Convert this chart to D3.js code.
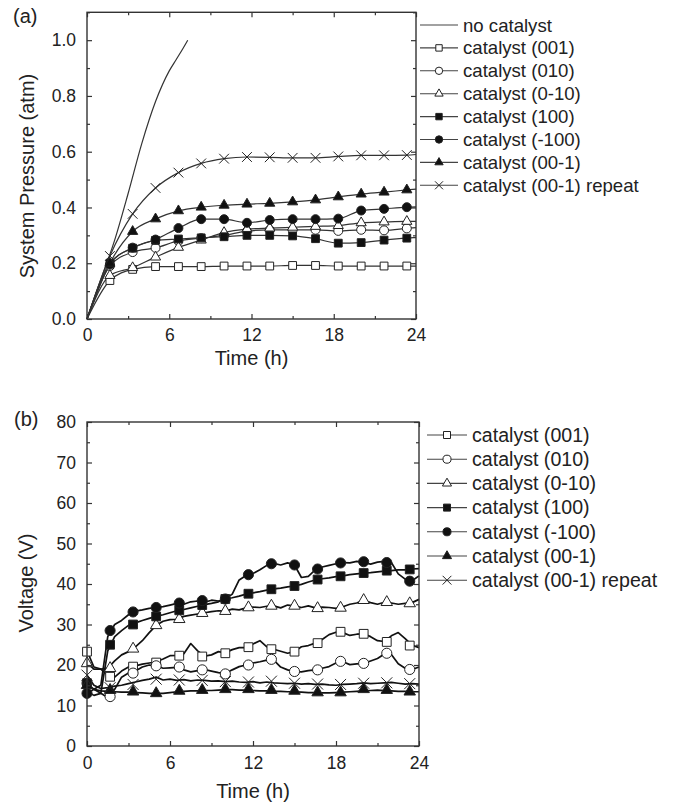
<!DOCTYPE html>
<html>
<head>
<meta charset="utf-8">
<script src="https://cdn.jsdelivr.net/npm/d3@7"></script>
<style>
  body { margin: 0; background: #fff; }
  svg text { font-family: "Liberation Sans", Arial, sans-serif; fill: #222; }
</style>
</head>
<body>
<script>
// etiquetas de las series (mismo orden en los dos paneles)
let etiquetas = ["no catalyst", "catalyst (001)", "catalyst (010)", "catalyst (0-10)",
  "catalyst (100)", "catalyst (-100)", "catalyst (00-1)", "catalyst (00-1) repeat"];

let ticksX = [0, 6, 12, 18, 24];
let ticksXmenor = [3, 9, 15, 21];
let ticksPresion = [0, 0.2, 0.4, 0.6, 0.8, 1.0];
let ticksPresionMenor = [0.1, 0.3, 0.5, 0.7, 0.9, 1.1];
let ticksVoltaje = [0, 10, 20, 30, 40, 50, 60, 70, 80];
let ticksVoltajeMenor = [5, 15, 25, 35, 45, 55, 65, 75];

// ---- panel (a): presion del sistema (atm) ----
let tiempoSinCat = [0, 1, 2, 3, 4, 5, 6, 6.5, 7, 7.35];
let presionSinCat = [0, 0.14, 0.28, 0.45, 0.63, 0.78, 0.89, 0.93, 0.97, 1.0];

let tiemposA = [0, 1.67, 3.33, 5, 6.67, 8.33, 10, 11.67, 13.33, 15, 16.67, 18.33, 20, 21.67, 23.33, 24];
let presion001 = [0, 0.138, 0.178, 0.188, 0.188, 0.188, 0.19, 0.19, 0.19, 0.192, 0.192, 0.19, 0.19, 0.19, 0.19, 0.19];
let presion010 = [0, 0.19, 0.24, 0.255, 0.28, 0.29, 0.3, 0.315, 0.32, 0.32, 0.32, 0.316, 0.32, 0.318, 0.325, 0.328];
let presion0m10 = [0, 0.156, 0.184, 0.222, 0.257, 0.283, 0.31, 0.322, 0.326, 0.329, 0.332, 0.335, 0.345, 0.348, 0.35, 0.35];
let presion100 = [0, 0.2, 0.254, 0.282, 0.287, 0.291, 0.295, 0.3, 0.3, 0.298, 0.288, 0.272, 0.274, 0.283, 0.29, 0.292];
let presionm100 = [0, 0.195, 0.256, 0.285, 0.326, 0.358, 0.358, 0.345, 0.355, 0.358, 0.358, 0.36, 0.389, 0.395, 0.401, 0.402];
let presion00m1 = [0, 0.2, 0.314, 0.359, 0.388, 0.401, 0.408, 0.412, 0.415, 0.42, 0.427, 0.438, 0.448, 0.455, 0.463, 0.466];
let presionRep = [0, 0.226, 0.377, 0.47, 0.525, 0.558, 0.575, 0.581, 0.58, 0.578, 0.578, 0.583, 0.587, 0.587, 0.588, 0.59];

// ---- panel (b): voltaje (V) ----
let tiemposB = [0, 0.5, 1, 1.5, 2, 2.5, 3, 3.5, 4, 4.5, 5, 5.5, 6, 6.5, 7, 7.5, 8, 8.5, 9, 9.5,
  10, 10.5, 11, 11.5, 12, 12.5, 13, 13.5, 14, 14.5, 15, 15.5, 16, 16.5, 17, 17.5, 18, 18.5, 19, 19.5,
  20, 20.5, 21, 21.5, 22, 22.5, 23, 23.5, 24];
let voltaje001 = [23.5, 19.5, 19, 17.5, 17, 18.5, 19.5, 19.8, 20.2, 20.5, 20.8, 21.5, 22.3, 22.4, 22.8, 25.3, 23.5, 22.2, 22.5, 23.3,
  23, 23.8, 24.3, 24.3, 25.2, 26, 24.5, 23.9, 23.4, 22.9, 23.3, 24.5, 24.8, 25.4, 26.3, 27.5, 28.1, 28, 27.3, 27.6,
  27.7, 27, 26, 25.8, 27.2, 28, 26.5, 24.9, 24.3];
let voltaje010 = [15.5, 14, 13, 12, 14, 17, 18, 18.5, 19.5, 20, 19.8, 19.2, 19.3, 19.4, 18.8, 18.3, 18.6, 18.9, 18.5, 18.1,
  17.9, 18.8, 19.6, 20, 20.5, 20.8, 21.2, 21.2, 19.5, 18.8, 18.4, 18.3, 18.6, 18.8, 19.2, 19.6, 20.5, 20.8, 20.1, 20.3,
  20.4, 21, 21.6, 22.7, 22.6, 20.3, 19.2, 18.9, 19.5];
let voltaje0m10 = [20.5, 19, 19, 19.2, 21, 22.5, 23.3, 24.5, 26, 28, 29.8, 30.8, 31.2, 31.3, 32, 32.3, 32.6, 32.9, 33.2, 33.4,
  33.3, 33.8, 33.6, 34.1, 34.3, 34.2, 34.5, 34.6, 34.1, 34.8, 34.6, 34.2, 34.6, 34.1, 34.3, 34.2, 34, 34.4, 35, 35.3,
  36, 35.4, 35, 35.5, 35.3, 35, 35.2, 35.4, 36.2];
let voltaje100 = [13.5, 12.5, 13, 23.5, 27, 28.5, 29.8, 30.4, 31, 31.5, 32, 32.4, 32.9, 33.4, 33.7, 34.1, 34.5, 34.9, 35.2, 35.6,
  36.3, 36.6, 37, 37.5, 37.8, 38.1, 38.5, 38.8, 39, 39.3, 39.5, 39.9, 40.5, 41, 41.3, 41.5, 41.8, 42, 42.3, 42.5,
  42.7, 42.8, 43, 43.2, 43.3, 43.5, 43.5, 43.7, 43.8];
let voltajem100 = [13, 14, 15, 27, 30, 31, 32.4, 33.3, 33.6, 34, 34.2, 34.4, 34.8, 35.2, 35, 35.6, 35.8, 35.5, 36, 35.8,
  36.3, 37.5, 41, 42.1, 42.6, 43.5, 44.6, 45.1, 44.7, 45.2, 44.7, 41.6, 41.9, 43.5, 44.2, 44.6, 45, 45.3, 45.2, 45.6,
  45.3, 44.9, 45.4, 45.6, 45.3, 42.5, 41.2, 40.8, 42];
let voltaje00m1 = [15, 14, 13.6, 13.5, 13.4, 13.3, 13.3, 13.2, 13.1, 13, 13, 13, 13.2, 13.4, 13.5, 13.6, 13.6, 13.7, 13.7, 13.8,
  13.9, 13.9, 13.8, 13.8, 13.7, 13.6, 13.6, 13.5, 13.5, 13.4, 13.4, 13.3, 13.2, 13.2, 13.1, 13.1, 13.2, 13.3, 13.4, 13.5,
  13.6, 13.7, 13.8, 13.7, 13.6, 13.5, 13.5, 13.4, 13.4];
let voltajeRep = [17.5, 15, 14.2, 14.4, 14.8, 15, 15.4, 15.8, 16.2, 16.5, 17, 16.3, 16.5, 16.2, 16.4, 16.1, 16.3, 16.2, 16, 16.1,
  15.9, 16, 15.8, 15.7, 15.9, 15.6, 15.8, 15.6, 15.5, 15.4, 15.5, 15.3, 15.4, 15.2, 15.3, 15.1, 15, 15.2, 15.3, 15.4,
  15.6, 15.4, 15.5, 15.6, 15.7, 15.5, 15.3, 15.4, 15.3];

// marcadores del panel (b)
let tiemposMarcasB = [0, 1.67, 3.33, 5, 6.67, 8.33, 10, 11.67, 13.33, 15, 16.67, 18.33, 20, 21.67, 23.33];
let marcas001 = [23.3, 17.1, 19.6, 20.6, 22.3, 22.1, 22.9, 24.4, 23.9, 23.3, 25.4, 28.2, 27.7, 25.7, 24.8];
let marcas010 = [15.5, 12.2, 18, 19.8, 19.5, 18.8, 17.8, 20, 21.4, 18.4, 18.8, 20.9, 20.4, 22.9, 18.9];
let marcas0m10 = [20.4, 19.2, 24, 29.8, 31.3, 32.8, 33.3, 34.2, 34.6, 34.6, 34, 34.1, 36, 35.5, 35.2];
let marcas100 = [15.5, 25, 30, 32, 33.5, 34.8, 36.3, 37.6, 38.7, 39.5, 41.1, 41.9, 42.7, 43.3, 43.6];
let marcasm100 = [13, 28.5, 33.1, 34.2, 35.3, 35.9, 36.3, 42.3, 45, 44.7, 43.7, 45.2, 45.5, 45.3, 40.7];
let marcas00m1 = [15, 13.8, 13.4, 13, 13.6, 13.8, 14, 14, 13.8, 13.6, 13.2, 13.2, 14, 13.8, 13.4];
let marcasRep = [17.5, 14.4, 15.2, 16.5, 16.3, 16.2, 15.9, 15.8, 16, 15.5, 15.3, 15.2, 15.5, 15.6, 15.4];

let width = 674, height = 803;

let svg = d3.select("body").append("svg")
  .attr("width", width)
  .attr("height", height);

svg.append("rect").attr("width", width).attr("height", height).attr("fill", "#fff");

//simbolo en forma de aspa (x)
let aspa = {
  draw: function(ctx, size) {
    let r = Math.sqrt(size) / 2;
    ctx.moveTo(-r, -r); ctx.lineTo(r, r);
    ctx.moveTo(r, -r); ctx.lineTo(-r, r);
  }
};
let simbolos = [null, d3.symbolSquare, d3.symbolCircle, d3.symbolTriangle,
  d3.symbolSquare, d3.symbolCircle, d3.symbolTriangle, aspa];
let rellenos = [null, "#fff", "#fff", "#fff", "#111", "#111", "#111", "none"];

//lado = ancho aproximado del marcador en px
function forma(i, lado) {
  let t = simbolos[i];
  let area = lado * lado;
  if (t === d3.symbolCircle) area = Math.PI * lado * lado / 4;
  if (t === d3.symbolTriangle) area = Math.sqrt(3) / 4 * lado * lado;
  return d3.symbol().type(t).size(area)();
}
function ladoDe(i, base) {
  if (simbolos[i] === d3.symbolTriangle) return base * 1.3;
  if (simbolos[i] === d3.symbolCircle) return base * 1.15;
  if (simbolos[i] === aspa) return base * 1.25;
  return base;
}

//Ejes con marcas hacia dentro en los cuatro lados
function dibujaEjes(x, y, yTicks, yMenor, fmt, padX) {
  let [x0, x1] = x.range();
  let [y1, y0] = y.range();
  let g = svg.append("g");

  g.append("g").attr("transform", `translate(0,${y1})`)
    .call(d3.axisBottom(x).tickValues(ticksX).tickSizeInner(-5).tickSizeOuter(0).tickPadding(padX));
  g.append("g").attr("transform", `translate(0,${y1})`)
    .call(d3.axisBottom(x).tickValues(ticksXmenor).tickSizeInner(-3).tickSizeOuter(0).tickFormat(""));
  g.append("g").attr("transform", `translate(0,${y0})`)
    .call(d3.axisTop(x).tickValues(ticksX).tickSizeInner(-5).tickSizeOuter(0).tickFormat(""));
  g.append("g").attr("transform", `translate(0,${y0})`)
    .call(d3.axisTop(x).tickValues(ticksXmenor).tickSizeInner(-3).tickSizeOuter(0).tickFormat(""));

  g.append("g").attr("transform", `translate(${x0},0)`)
    .call(d3.axisLeft(y).tickValues(yTicks).tickSizeInner(-5).tickSizeOuter(0).tickPadding(11).tickFormat(fmt));
  g.append("g").attr("transform", `translate(${x0},0)`)
    .call(d3.axisLeft(y).tickValues(yMenor).tickSizeInner(-3).tickSizeOuter(0).tickFormat(""));
  g.append("g").attr("transform", `translate(${x1},0)`)
    .call(d3.axisRight(y).tickValues(yTicks).tickSizeInner(-5).tickSizeOuter(0).tickFormat(""));
  g.append("g").attr("transform", `translate(${x1},0)`)
    .call(d3.axisRight(y).tickValues(yMenor).tickSizeInner(-3).tickSizeOuter(0).tickFormat(""));

  g.selectAll(".domain").remove();
  g.selectAll(".tick line").attr("stroke", "#333").attr("stroke-width", 1.2);
  g.selectAll(".tick text").attr("font-size", "17.5px").attr("fill", "#222");

  g.append("rect")
    .attr("x", x0).attr("y", y0)
    .attr("width", x1 - x0).attr("height", y1 - y0)
    .attr("fill", "none").attr("stroke", "#333").attr("stroke-width", 1.4);
}

//Leyenda a la derecha de cada panel
function dibujaLeyenda(indices, lx0, lx1, ty, y0, paso, fs, base) {
  indices.forEach(function(i, k) {
    let yy = y0 + paso * k;
    svg.append("line")
      .attr("x1", lx0).attr("x2", lx1).attr("y1", yy).attr("y2", yy)
      .attr("stroke", "#444").attr("stroke-width", 1.1);
    if (simbolos[i]) {
      svg.append("path")
        .attr("d", forma(i, ladoDe(i, base)))
        .attr("transform", `translate(${(lx0 + lx1) / 2},${yy})`)
        .attr("fill", rellenos[i]).attr("stroke", "#222").attr("stroke-width", 1);
    }
    svg.append("text")
      .attr("x", ty).attr("y", yy).attr("dy", "0.35em")
      .attr("font-size", fs + "px")
      .text(etiquetas[i]);
  });
}

// ---------------- panel (a) ----------------
let xA = d3.scaleLinear().domain([0, 24]).range([87, 416]);
let yA = d3.scaleLinear().domain([0, 1.1]).range([319, 12.3]);

let lineaA = d3.line()
  .x(d => xA(d[0]))
  .y(d => yA(d[1]))
  .curve(d3.curveMonotoneX);

let seriesA = [presion001, presion010, presion0m10, presion100, presionm100, presion00m1, presionRep];

svg.append("path")
  .datum(d3.zip(tiempoSinCat, presionSinCat))
  .attr("d", lineaA)
  .attr("fill", "none").attr("stroke", "#333").attr("stroke-width", 1.2);

seriesA.forEach(function(serie) {
  svg.append("path")
    .datum(d3.zip(tiemposA, serie))
    .attr("d", lineaA)
    .attr("fill", "none").attr("stroke", "#333").attr("stroke-width", 1.2);
});
seriesA.forEach(function(serie, j) {
  let i = j + 1;
  svg.append("g").selectAll("path")
    .data(d3.zip(tiemposA, serie).slice(1, 15))
    .enter().append("path")
      .attr("d", forma(i, ladoDe(i, 7.8)))
      .attr("transform", d => `translate(${xA(d[0])},${yA(d[1])})`)
      .attr("fill", rellenos[i]).attr("stroke", "#222").attr("stroke-width", 1);
});

dibujaEjes(xA, yA, ticksPresion, ticksPresionMenor, d3.format(".1f"), 10);

svg.append("text").attr("x", 13).attr("y", 23).attr("font-size", "20px").text("(a)");
svg.append("text")
  .attr("transform", "translate(34,176) rotate(-90)")
  .attr("text-anchor", "middle").attr("font-size", "20px")
  .text("System Pressure (atm)");
svg.append("text")
  .attr("x", (xA(0) + xA(24)) / 2).attr("y", 365)
  .attr("text-anchor", "middle").attr("font-size", "20px")
  .text("Time (h)");

dibujaLeyenda([0, 1, 2, 3, 4, 5, 6, 7], 420, 458, 463, 25, 22.9, 18.6, 6.4);

// ---------------- panel (b) ----------------
let xB = d3.scaleLinear().domain([0, 24]).range([87, 419]);
let yB = d3.scaleLinear().domain([0, 80]).range([746, 422]);

let lineaB = d3.line()
  .x(d => xB(d[0]))
  .y(d => yB(d[1]));

let seriesB = [voltaje001, voltaje010, voltaje0m10, voltaje100, voltajem100, voltaje00m1, voltajeRep];
let marcasB = [marcas001, marcas010, marcas0m10, marcas100, marcasm100, marcas00m1, marcasRep];

seriesB.forEach(function(serie) {
  svg.append("path")
    .datum(d3.zip(tiemposB, serie))
    .attr("d", lineaB)
    .attr("fill", "none").attr("stroke", "#111").attr("stroke-width", 1.7)
    .attr("stroke-linejoin", "round");
});
marcasB.forEach(function(marcas, j) {
  let i = j + 1;
  svg.append("g").selectAll("path")
    .data(d3.zip(tiemposMarcasB, marcas))
    .enter().append("path")
      .attr("d", forma(i, ladoDe(i, 8.8)))
      .attr("transform", d => `translate(${xB(d[0])},${yB(d[1])})`)
      .attr("fill", rellenos[i]).attr("stroke", "#222").attr("stroke-width", 1);
});

dibujaEjes(xB, yB, ticksVoltaje, ticksVoltajeMenor, d3.format("d"), 11);

svg.append("text").attr("x", 14).attr("y", 426).attr("font-size", "20px").text("(b)");
svg.append("text")
  .attr("transform", "translate(33,583) rotate(-90)")
  .attr("text-anchor", "middle").attr("font-size", "20px")
  .text("Voltage (V)");
svg.append("text")
  .attr("x", (xB(0) + xB(24)) / 2).attr("y", 798)
  .attr("text-anchor", "middle").attr("font-size", "20px")
  .text("Time (h)");

dibujaLeyenda([1, 2, 3, 4, 5, 6, 7], 427, 467, 472, 435, 24.2, 19.6, 7);
</script>
</body>
</html>
